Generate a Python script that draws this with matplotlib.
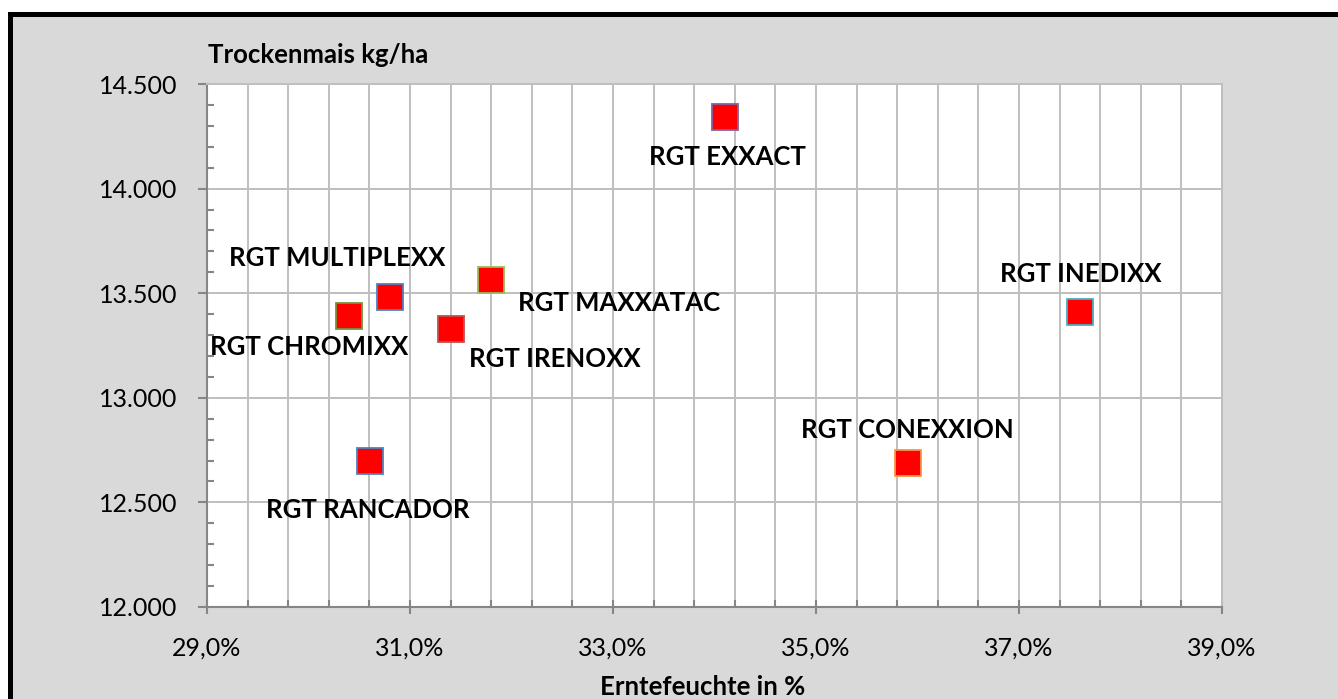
import matplotlib
matplotlib.use('Agg')
import matplotlib.pyplot as plt
from matplotlib.ticker import MultipleLocator, FuncFormatter
from matplotlib.patches import Rectangle

# ---- data ----
varieties = ["RGT EXXACT", "RGT MAXXATAC", "RGT MULTIPLEXX", "RGT CHROMIXX",
             "RGT IRENOXX", "RGT RANCADOR", "RGT CONEXXION", "RGT INEDIXX"]
moisture_pct = [34.10, 31.80, 30.80, 30.40, 31.40, 30.61, 35.91, 37.60]
yield_kg_ha = [14340, 13562, 13480, 13392, 13329, 12698, 12686, 13412]

x_title = "Erntefeuchte in %"
y_title = "Trockenmais kg/ha"

# ---- styles / layout ----
edge_colors = {"RGT EXXACT": "#8064a2", "RGT MAXXATAC": "#9bbb59",
               "RGT MULTIPLEXX": "#4f81bd", "RGT CHROMIXX": "#77933c",
               "RGT IRENOXX": "#c0504d", "RGT RANCADOR": "#4f81bd",
               "RGT CONEXXION": "#f79646", "RGT INEDIXX": "#4bacc6"}
# label offsets in pixels (dx right, dy up) from the marker
label_offsets = {"RGT EXXACT": (3, -40), "RGT MAXXATAC": (128, -23),
                 "RGT MULTIPLEXX": (-53, 39), "RGT CHROMIXX": (-40, -31),
                 "RGT IRENOXX": (104, -30), "RGT RANCADOR": (-3, -49),
                 "RGT CONEXXION": (-1, 33), "RGT INEDIXX": (1, 38)}

FONT = "Lato"
plt.rcParams['font.family'] = [FONT, 'DejaVu Sans']
LBL = 18.5
TICK = 18

W, H = 1338, 699
fig = plt.figure(figsize=(W / 100, H / 100), dpi=100, facecolor='white')

frame = Rectangle((9.5 / W, -0.2), 2.0, 1.2 - 13.5 / H,
                  transform=fig.transFigure, facecolor='#d9d9d9',
                  edgecolor='black', linewidth=3.6, zorder=-5)
fig.add_artist(frame)

ax = fig.add_axes([207 / W, 92 / H, 1015 / W, 523 / H])
ax.set_zorder(1)
ax.set_facecolor('white')

for name, x, y in zip(varieties, moisture_pct, yield_kg_ha):
    ax.plot([x], [y], marker='s', linestyle='none', markersize=18.8,
            markerfacecolor='#ff0000', markeredgecolor=edge_colors[name],
            markeredgewidth=1.3, zorder=5, clip_on=False)
    dx, dy = label_offsets[name]
    ax.annotate(name, (x, y), xytext=(dx, dy), textcoords='offset pixels',
                ha='center', va='center', fontsize=LBL, fontweight='bold',
                color='black', zorder=6)

ax.set_xlim(29, 39)
ax.set_ylim(12000, 14500)
ax.xaxis.set_major_locator(MultipleLocator(2, offset=1))
ax.xaxis.set_minor_locator(MultipleLocator(0.4, offset=0.2))
ax.yaxis.set_major_locator(MultipleLocator(500))
ax.yaxis.set_minor_locator(MultipleLocator(100))
ax.xaxis.set_major_formatter(FuncFormatter(lambda v, p: f"{v:.1f}%".replace('.', ',')))
ax.yaxis.set_major_formatter(FuncFormatter(lambda v, p: f"{int(round(v)):,}".replace(',', '.')))

grid_c = '#bfbfbf'
ax.grid(which='major', axis='both', color=grid_c, linewidth=1.4, zorder=0)
ax.grid(which='minor', axis='x', color=grid_c, linewidth=1.4, zorder=0)
ax.set_axisbelow(True)

axis_c = '#868686'
for s in ['left', 'bottom']:
    ax.spines[s].set_color(axis_c)
    ax.spines[s].set_linewidth(1.5)
for s in ['top', 'right']:
    ax.spines[s].set_color(grid_c)
    ax.spines[s].set_linewidth(1.4)

ax.tick_params(axis='x', which='major', direction='inout', length=10, width=1.5,
               color=axis_c, pad=16.5, labelsize=TICK, labelcolor='black')
ax.tick_params(axis='x', which='minor', direction='in', length=5, width=1.5, color=axis_c)
ax.tick_params(axis='y', which='major', direction='out', length=6.5, width=1.5,
               color=axis_c, pad=15, labelsize=TICK, labelcolor='black')
ax.tick_params(axis='y', which='minor', direction='in', length=5, width=1.5, color=axis_c)

fig.text(208 / W, 1 - 55 / H, y_title, ha='left', va='center',
         fontsize=LBL, fontweight='bold')
fig.text(703 / W, 1 - 687 / H, x_title, ha='center', va='center',
         fontsize=LBL, fontweight='bold')

fig.savefig('out.png', dpi=100, facecolor='white')
